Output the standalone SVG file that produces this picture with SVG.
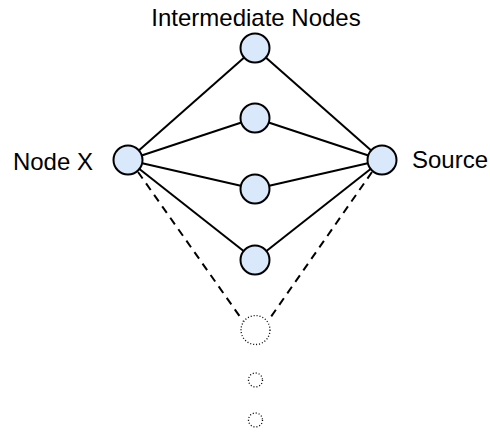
<svg xmlns="http://www.w3.org/2000/svg" width="490" height="432" viewBox="0 0 490 432">
  <style>
    .node { fill: #dae8fc; stroke: #000; stroke-width: 2; }
    .ghost { fill: none; stroke: #000; stroke-width: 1.3; stroke-dasharray: 1 2; }
    .edge { stroke: #000; stroke-width: 2; fill: none; }
    .dashed { stroke: #000; stroke-width: 2; fill: none; stroke-dasharray: 8 6; }
    .label { font-family: "Liberation Sans", Arial, sans-serif; font-size: 24px; fill: #000; }
  </style>
  <rect width="490" height="432" fill="#fff"/>
  <g id="connectors">
    <line class="edge" x1="128" y1="160" x2="255" y2="48"/>
    <line class="edge" x1="128" y1="160" x2="255" y2="118"/>
    <line class="edge" x1="128" y1="160" x2="255" y2="189"/>
    <line class="edge" x1="128" y1="160" x2="255" y2="260"/>
    <line class="edge" x1="382" y1="160" x2="255" y2="48"/>
    <line class="edge" x1="382" y1="160" x2="255" y2="118"/>
    <line class="edge" x1="382" y1="160" x2="255" y2="189"/>
    <line class="edge" x1="382" y1="160" x2="255" y2="260"/>
    <line class="dashed" x1="138" y1="172" x2="243" y2="321"/>
    <line class="dashed" x1="372" y1="172" x2="268" y2="321"/>
  </g>
  <g id="node-x">
    <circle class="node" cx="128" cy="160" r="14.5"/>
    <text class="label" x="93" y="170" text-anchor="end">Node X</text>
  </g>
  <g id="source">
    <circle class="node" cx="382" cy="160" r="14.5"/>
    <text class="label" x="412" y="168">Source</text>
  </g>
  <g id="intermediate-label">
    <text class="label" x="256" y="26" text-anchor="middle">Intermediate Nodes</text>
  </g>
  <g id="node-1"><circle class="node" cx="255" cy="48" r="14.5"/></g>
  <g id="node-2"><circle class="node" cx="255" cy="118" r="14.5"/></g>
  <g id="node-3"><circle class="node" cx="255" cy="189" r="14.5"/></g>
  <g id="node-4"><circle class="node" cx="255" cy="260" r="14.5"/></g>
  <g id="node-more"><circle class="ghost" cx="255.5" cy="330" r="14.5"/></g>
  <g id="dot-1"><circle class="ghost" cx="255.5" cy="380" r="7"/></g>
  <g id="dot-2"><circle class="ghost" cx="255.5" cy="420" r="7"/></g>
</svg>
